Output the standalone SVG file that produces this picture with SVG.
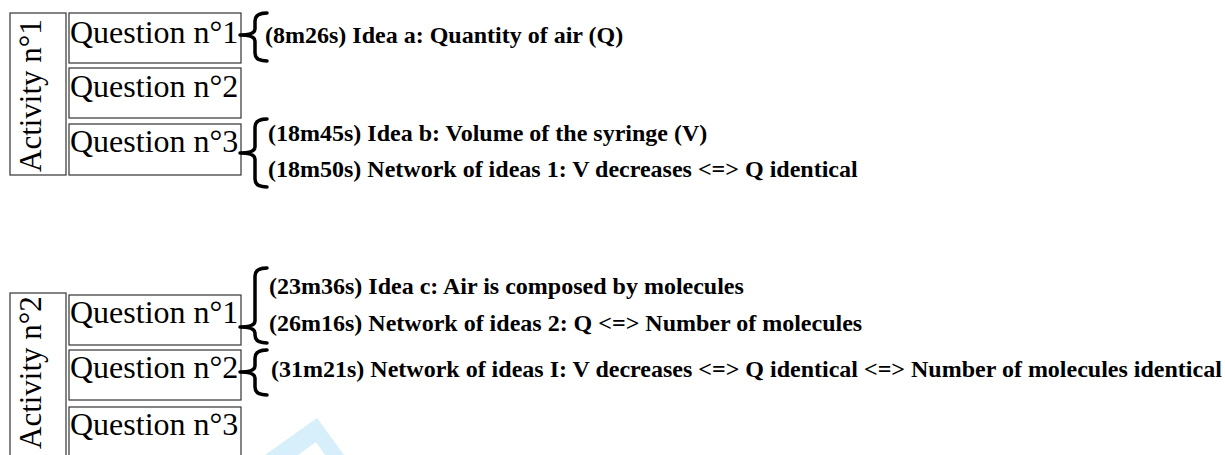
<svg xmlns="http://www.w3.org/2000/svg" width="1225" height="455" viewBox="0 0 1225 455">
<style>
.box{fill:none;stroke:#333;stroke-width:1.2}
.q{font-family:"Liberation Serif","Times New Roman",serif;font-size:32px;fill:#000}
.act{font-family:"Liberation Serif","Times New Roman",serif;font-size:31px;fill:#000}
.idea{font-family:"Liberation Serif","Times New Roman",serif;font-size:24px;font-weight:bold;fill:#000}
.brace{fill:none;stroke:#000;stroke-width:3.5;stroke-linecap:round;stroke-linejoin:round}
</style>
<rect width="1225" height="455" fill="#fff"/>
<polygon points="317,418 265,455 298,455 316,442 325,455 344,455" fill="#d6effb"/>
<g id="activity1">
<rect class="box" x="10" y="13" width="56" height="162"/>
<text class="act" transform="translate(41,172) rotate(-90)">Activity n°1</text>
</g>
<g id="a1q1"><rect class="box" x="69" y="13" width="172" height="50"/><text class="q" x="70" y="43">Question n°1</text></g>
<g id="a1q2"><rect class="box" x="69" y="68" width="172" height="50"/><text class="q" x="70" y="97">Question n°2</text></g>
<g id="a1q3"><rect class="box" x="69" y="124" width="172" height="51"/><text class="q" x="70" y="152">Question n°3</text></g>
<g id="activity2">
<rect class="box" x="10" y="293" width="56" height="170"/>
<text class="act" transform="translate(41,449) rotate(-90)">Activity n°2</text>
</g>
<g id="a2q1"><rect class="box" x="69" y="295" width="172" height="50"/><text class="q" x="70" y="323">Question n°1</text></g>
<g id="a2q2"><rect class="box" x="69" y="350" width="172" height="50"/><text class="q" x="70" y="378">Question n°2</text></g>
<g id="a2q3"><rect class="box" x="69" y="407" width="172" height="60"/><text class="q" x="70" y="435">Question n°3</text></g>
<g id="connectors">
<path class="brace" d="M267,13 Q255,13 255,21 L255,29 Q255,35 240,35 Q255,35 255,41 L255,53 Q255,61 267,61"/>
<path class="brace" d="M267,119 Q255,119 255,127 L255,147 Q255,153 240,153 Q255,153 255,159 L255,179 Q255,187 267,187"/>
<path class="brace" d="M267,268 Q255,268 255,276 L255,321 Q255,327 240,327 Q255,327 255,333 L255,335 Q255,343 267,343"/>
<path class="brace" d="M267,350 Q255,350 255,358 L255,366 Q255,372 240,372 Q255,372 255,378 L255,387 Q255,395 267,395"/>
</g>
<g id="ideas">
<text class="idea" x="265" y="43">(8m26s) Idea a: Quantity of air (Q)</text>
<text class="idea" x="268" y="141">(18m45s) Idea b: Volume of the syringe (V)</text>
<text class="idea" x="268" y="177">(18m50s) Network of ideas 1: V decreases &lt;=&gt; Q identical</text>
<text class="idea" x="269" y="294">(23m36s) Idea c: Air is composed by molecules</text>
<text class="idea" x="269" y="331">(26m16s) Network of ideas 2: Q &lt;=&gt; Number of molecules</text>
<text class="idea" x="271" y="377">(31m21s) Network of ideas I: V decreases &lt;=&gt; Q identical &lt;=&gt; Number of molecules identical</text>
</g>
</svg>
